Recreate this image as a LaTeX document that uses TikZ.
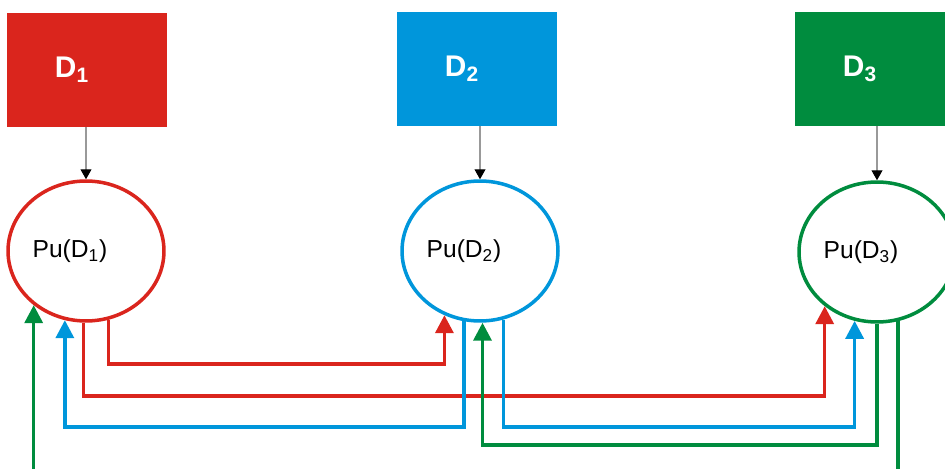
\documentclass[tikz,border=0pt]{standalone}
\usepackage{fontspec}
\setmainfont{Liberation Sans}
\usetikzlibrary{arrows.meta,shapes.geometric}
\definecolor{rojo}{RGB}{218,37,29}
\definecolor{azul}{RGB}{0,150,219}
\definecolor{verde}{RGB}{0,140,62}

\begin{document}
\begin{tikzpicture}[x=0.02cm,y=-0.02cm,
  caja/.style={minimum width=3.2cm,minimum height=2.28cm,inner sep=0pt},
  letra/.style={xshift=-0.3cm,text=white,font=\fontsize{17}{20}\selectfont\bfseries},
  pu/.style={ellipse,draw,line width=2pt,minimum width=3.12cm,minimum height=2.8cm,inner sep=0pt},
  texto/.style={xshift=-0.32cm,font=\fontsize{14}{16}\selectfont},
  dato/.style={draw=black!40,line width=0.6pt,-{Triangle[color=black,length=2mm,width=2.2mm]}},
  flujo/.style={line width=2pt,-{Triangle[length=3.6mm,width=3.6mm]}}]
  \path[use as bounding box,clip] (0,0) rectangle (945,469);
  % cajas de datos
  \node[caja,fill=rojo] (d1) at (87,70) {};
  \node[caja,fill=azul] (d2) at (477,69) {};
  \node[caja,fill=verde] (d3) at (875,69) {};
  \node[label={[letra]center:D\textsubscript{1}}] at (d1.center) {};
  \node[label={[letra]center:D\textsubscript{2}}] at (d2.center) {};
  \node[label={[letra]center:D\textsubscript{3}}] at (d3.center) {};
  % nodos Pu
  \node[pu,draw=rojo,label={[texto]center:Pu(D\textsubscript{1})}] (c1) at (86,251) {};
  \node[pu,draw=azul,label={[texto]center:Pu(D\textsubscript{2})}] (c2) at (480,251) {};
  \node[pu,draw=verde,label={[texto]center:Pu(D\textsubscript{3})}] (c3) at (877,252) {};
  % flechas grises
  \draw[dato] (d1.south -| c1.north) -- (c1.north);
  \draw[dato] (d2.south -| c2.north) -- (c2.north);
  \draw[dato] (d3.south -| c3.north) -- (c3.north);
  % niveles de las conexiones
  \coordinate (nA) at (0,364);
  \coordinate (nB) at (0,396);
  \coordinate (nC) at (0,427);
  \coordinate (nD) at (0,445);
  \coordinate (nE) at (0,480);
  % conexiones
  \draw[flujo,rojo] (c1.-72) -- (c1.-72 |- nA) -| (c2.-119);
  \draw[flujo,rojo] (c1.-92) -- (c1.-92 |- nB) -| (c3.-134);
  \draw[flujo,azul] (c2.-103) -- (c2.-103 |- nC) -| (c1.-107);
  \draw[flujo,azul] (c2.-71) -- (c2.-71 |- nC) -| (c3.-108);
  \draw[flujo,verde] (c3.south) -- (c3.south |- nD) -| (c2.-88);
  \draw[flujo,verde] (c3.-73) -- (c3.-73 |- nE) -| (c1.-134);
\end{tikzpicture}
\end{document}
